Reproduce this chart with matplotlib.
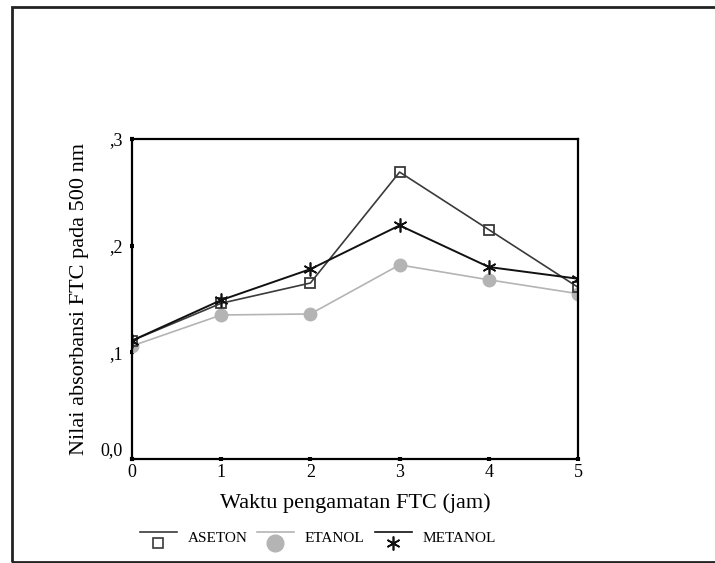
import numpy as np
import matplotlib
matplotlib.use('Agg')
import matplotlib.pyplot as plt
from matplotlib.lines import Line2D
from matplotlib.patches import Rectangle

plt.rcParams['font.family'] = ['Liberation Serif', 'DejaVu Serif']

# data
jam = [0, 1, 2, 3, 4, 5]
aseton = [0.111, 0.146, 0.165, 0.269, 0.215, 0.161]
etanol = [0.106, 0.135, 0.136, 0.182, 0.168, 0.155]
metanol = [0.111, 0.149, 0.178, 0.219, 0.180, 0.169]
yticks = [0.0, 0.1, 0.2, 0.3]
ytick_labels = ['0,0', ',1', ',2', ',3']
series_names = ['ASETON', 'ETANOL', 'METANOL']

fig = plt.figure(figsize=(7.15, 5.63), dpi=100)
ax = fig.add_axes([0.1846, 0.1847, 0.6238, 0.5684])

c_as = '#3a3a3a'
c_et = '#b4b4b4'
c_me = '#111111'
star = (6, 2, 0)

ax.plot(jam, etanol, color=c_et, lw=1.2, marker='o', ms=9, mfc=c_et, mec=c_et)
ax.plot(jam, aseton, color=c_as, lw=1.2, marker='s', ms=7.5, mfc='none', mec=c_as, mew=1.3)
ax.plot(jam, metanol, color=c_me, lw=1.4, marker=star, ms=10, mec=c_me, mew=1.2)

ax.set_xlim(0, 5)
ax.set_ylim(0, 0.3)
ax.set_xticks(jam)
ax.set_yticks(yticks)
ax.set_yticklabels(ytick_labels)
for s in ax.spines.values():
    s.set_linewidth(1.6)
ax.tick_params(direction='inout', length=3, width=3, labelsize=13)
ax.tick_params(axis='x', pad=2)
ax.tick_params(axis='y', pad=5)
# bottom label sits a bit higher, clear of the x labels
ax.get_yticklabels()[0].set_va('bottom')

ax.set_xlabel('Waktu pengamatan FTC (jam)', fontsize=16, labelpad=9)
ax.set_ylabel('Nilai absorbansi FTC pada 500 nm', fontsize=16)
ax.yaxis.set_label_coords(-0.096, 0.5)

# legend drawn below the axes
W, H = 715.0, 563.0
items = [
    (140, series_names[0], c_as, dict(marker='s', ms=7, mfc='none', mec=c_as, mew=1.2)),
    (257, series_names[1], c_et, dict(marker='o', ms=12, mfc=c_et, mec=c_et)),
    (375, series_names[2], c_me, dict(marker=star, ms=10, mec=c_me, mew=1.2)),
]
for (x0, name, col, mk) in items:
    fig.add_artist(Line2D([x0 / W, (x0 + 37) / W], [1 - 531.5 / H, 1 - 531.5 / H],
                          color=col, lw=1.2, transform=fig.transFigure))
    fig.add_artist(Line2D([(x0 + 18) / W], [1 - 543 / H], linestyle='none',
                          transform=fig.transFigure, **mk))
    fig.text((x0 + 48) / W, 1 - 539 / H, name, fontsize=11, va='center', ha='left')

# outer frame
fig.add_artist(Rectangle((12 / W, 1 - 562 / H), 720 / W, 555 / H, fill=False,
                         edgecolor='#222222', lw=2, transform=fig.transFigure))

fig.savefig('out.png', dpi=100)
